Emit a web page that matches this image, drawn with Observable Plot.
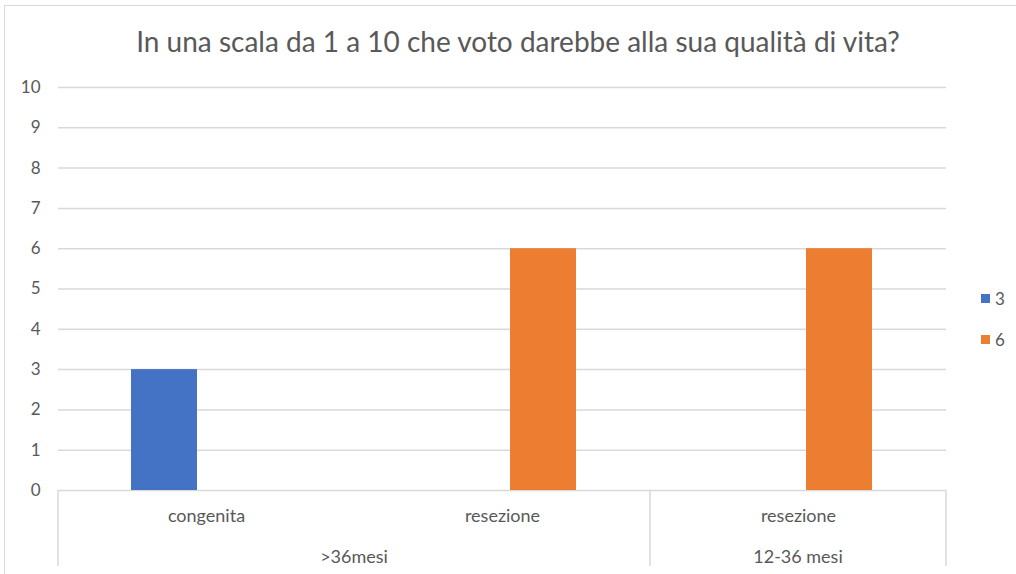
<!DOCTYPE html>
<html>
<head>
<meta charset="utf-8">
<script src="https://cdn.jsdelivr.net/npm/d3@7"></script>
<script src="https://cdn.jsdelivr.net/npm/@observablehq/plot@0.6"></script>
<style>
  html, body { margin: 0; padding: 0; background: #fff; }
  #wrap { position: relative; width: 1016px; height: 574px; overflow: hidden; font-family: Lato, "Open Sans", sans-serif; }
  #frame { position: absolute; left: 4px; top: 5px; width: 1100px; height: 700px; border: 1.5px solid #d9d9d9; box-sizing: border-box; }
  #title { position: absolute; left: 0; width: 1036px; top: 24px; text-align: center; font-size: 28px; line-height: 34px; color: #595959; }
  #chart { position: absolute; left: 0; top: 0; }
  #legend { position: absolute; left: 981px; top: 288px; font-size: 17px; color: #595959; }
  .item { display: flex; align-items: center; height: 20px; margin-bottom: 21px; }
  .sw { width: 9px; height: 9px; margin-right: 5px; }
</style>
</head>
<body>
<div id="wrap">
  <div id="frame"></div>
  <div id="chart"></div>
  <div id="title">In una scala da 1 a 10 che voto darebbe alla sua qualità di vita?</div>
  <div id="legend"></div>
</div>
<script>
const categories = ["congenita", "resezione", "resezione"];
const groups = [">36mesi", ">36mesi", "12-36 mesi"];
const seriesNames = ["3", "6"];
const seriesColors = ["#4472C4", "#ED7D31"];
const values3 = [3, null, null];
const values6 = [null, 6, 6];
const yTicks = [0, 1, 2, 3, 4, 5, 6, 7, 8, 9, 10];

const rows = [];
categories.forEach((c, i) => {
  if (values3[i] != null) rows.push({cat: i, series: "3", value: values3[i]});
  if (values6[i] != null) rows.push({cat: i, series: "6", value: values6[i]});
});

const plot = Plot.plot({
  width: 1016,
  height: 574,
  marginLeft: 57,
  marginRight: 70,
  marginTop: 87,
  marginBottom: 84,
  style: {fontFamily: "Lato, 'Open Sans', sans-serif", fontSize: "17px", color: "#595959", background: "transparent"},
  fx: {domain: [0, 1, 2], padding: 0, label: null},
  x: {domain: seriesNames, paddingInner: 0.202, paddingOuter: 0.867, axis: null},
  y: {domain: [0, 10], ticks: yTicks, label: null},
  color: {domain: seriesNames, range: seriesColors},
  marks: [
    Plot.ruleY(yTicks, {stroke: "#d9d9d9", strokeWidth: 1.5}),
    Plot.barY(rows, {fx: "cat", x: "series", y: "value", fill: "series"}),
    Plot.axisY({ticks: yTicks, tickSize: 0, tickPadding: 18, fill: "#595959", fontSize: 17, label: null}),
    Plot.axisFx({anchor: "bottom", tickSize: 0, tickPadding: 19, tickFormat: i => categories[i], fill: "#595959", fontSize: 18, label: null})
  ]
});
document.getElementById("chart").appendChild(plot);

// group separators and group labels below the axis, from the plot's scales
const fx = plot.scale("fx");
const yS = plot.scale("y");
const y0 = yS.apply(0);
const bw = fx.bandwidth;
const svg = d3.select(plot);
const g = svg.append("g");
const boundaries = [fx.apply(0), fx.apply(2), fx.apply(2) + bw];
boundaries.forEach(x => {
  g.append("line").attr("x1", x).attr("x2", x).attr("y1", y0).attr("y2", y0 + 76)
    .attr("stroke", "#d9d9d9").attr("stroke-width", 1.5);
});
const groupSpans = [[groups[0], fx.apply(0), fx.apply(1) + bw], [groups[2], fx.apply(2), fx.apply(2) + bw]];
groupSpans.forEach(([label, a, b]) => {
  g.append("text").attr("x", (a + b) / 2).attr("y", y0 + 73)
    .attr("text-anchor", "middle").attr("fill", "#595959").attr("font-size", 18).text(label);
});

// legend
const leg = document.getElementById("legend");
seriesNames.forEach((s, i) => {
  const it = document.createElement("div");
  it.className = "item";
  it.innerHTML = `<div class="sw" style="background:${seriesColors[i]}"></div><span>${s}</span>`;
  leg.appendChild(it);
});
</script>
</body>
</html>
